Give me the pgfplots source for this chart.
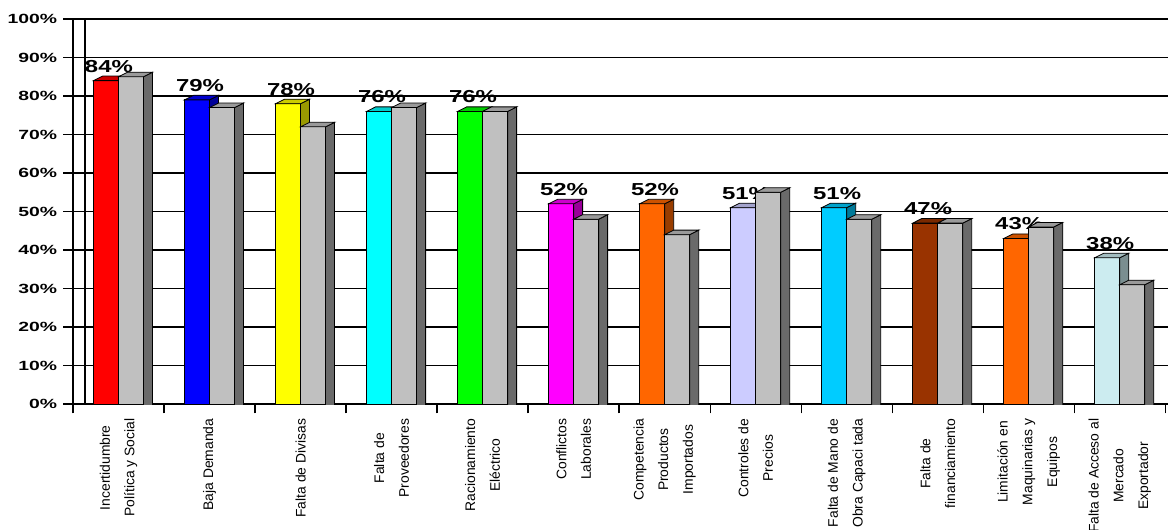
\documentclass[border=0pt]{standalone}
\usepackage{pgfplots}
\pgfplotsset{compat=1.18}
\usepackage{pgfplotstable}
\usepackage{graphicx}
\usepackage{fontspec}
\setmainfont{Liberation Sans}

\definecolor{c0}{HTML}{FF0000}
\definecolor{c1}{HTML}{0000FF}
\definecolor{c2}{HTML}{FFFF00}
\definecolor{c3}{HTML}{00FFFF}
\definecolor{c4}{HTML}{00FF00}
\definecolor{c5}{HTML}{FF00FF}
\definecolor{c6}{HTML}{FF6600}
\definecolor{c7}{HTML}{CCCCFF}
\definecolor{c8}{HTML}{00CCFF}
\definecolor{c9}{HTML}{993300}
\definecolor{c10}{HTML}{FF6600}
\definecolor{c11}{HTML}{CCECF0}
\definecolor{gb}{HTML}{C0C0C0}

% 3D faces of the bars (bar width 18.75pt, depth 6.75pt x 3.4pt)
\pgfdeclareplotmark{topL}{%
  \pgfpathmoveto{\pgfqpoint{-18.75pt}{0pt}}%
  \pgfpathlineto{\pgfqpoint{0pt}{0pt}}%
  \pgfpathlineto{\pgfqpoint{6.75pt}{3.4pt}}%
  \pgfpathlineto{\pgfqpoint{-12pt}{3.4pt}}%
  \pgfpathclose
  \pgfusepathqfillstroke}
\pgfdeclareplotmark{sideL}{%
  \pgfpathmoveto{\pgfqpoint{0pt}{0pt}}%
  \pgfpathlineto{\pgfqpoint{6.75pt}{3.4pt}}%
  \pgfpathlineto{\pgfqpoint{6.75pt}{-400pt}}%
  \pgfpathlineto{\pgfqpoint{0pt}{-400pt}}%
  \pgfpathclose
  \pgfusepathqfillstroke}
\pgfdeclareplotmark{topR}{%
  \pgfpathmoveto{\pgfqpoint{0pt}{0pt}}%
  \pgfpathlineto{\pgfqpoint{18.75pt}{0pt}}%
  \pgfpathlineto{\pgfqpoint{25.5pt}{3.4pt}}%
  \pgfpathlineto{\pgfqpoint{6.75pt}{3.4pt}}%
  \pgfpathclose
  \pgfusepathqfillstroke}
\pgfdeclareplotmark{sideR}{%
  \pgfpathmoveto{\pgfqpoint{18.75pt}{0pt}}%
  \pgfpathlineto{\pgfqpoint{25.5pt}{3.4pt}}%
  \pgfpathlineto{\pgfqpoint{25.5pt}{-400pt}}%
  \pgfpathlineto{\pgfqpoint{18.75pt}{-400pt}}%
  \pgfpathclose
  \pgfusepathqfillstroke}

\pgfplotstableread{
x a b
0 84 85
1 79 77
2 78 72
3 76 77
4 76 76
5 52 48
6 52 44
7 51 55
8 51 48
9 47 47
10 43 46
11 38 31
}\datatable

\begin{document}
\begin{tikzpicture}
\begin{axis}[
  name=ax,
  x=68.25pt, y=2.8875pt,
  xmin=-0.5, xmax=11.53, ymin=0, ymax=100,
  axis x line*=bottom, axis y line*=left,
  axis line style={black, line width=1pt},
  clip marker paths=true,
  ytick={0,10,...,100},
  yticklabel={\scalebox{1.45}[1]{\bfseries\pgfmathprintnumber[assume math mode=true]{\tick}\%}},
  yticklabel style={font=\fontsize{10}{10}\selectfont, xshift=-1pt},
  ymajorgrids,
  major grid style={black, line width=1pt},
  tick align=outside,
  major tick length=7.5pt,
  minor tick length=7pt,
  tick style={black, line width=1pt},
  xtick={0,...,11},
  major x tick style={draw=none},
  minor xtick={-0.5,0.5,...,11.5},
  extra x ticks={-0.37},
  extra x tick labels={},
  extra x tick style={grid=major, major tick length=0pt},
  xticklabels={
    {Incertidumbre\\Política y Social},
    {Baja Demanda},
    {Falta de Divisas},
    {Falta de\\Proveedores},
    {Racionamiento\\Eléctrico},
    {Conflictos\\Laborales},
    {Competencia\\Productos\\Importados},
    {Controles de\\Precios},
    {Falta de Mano de\\Obra Capaci tada},
    {Falta de\\financiamiento},
    {Limitación en\\Maquinarias y\\Equipos},
    {Falta de Acceso al\\Mercado\\Exportador}},
  xticklabel style={rotate=90, anchor=east, align=center,
    font=\fontsize{10.4}{18.5}\selectfont},
]
\pgfplotsinvokeforeach{0,...,11}{
  \addplot[ybar, bar width=18.75pt, bar shift=-9.375pt, fill=c#1, draw=black,
    line width=0.6pt, x filter/.expression={x==#1 ? x : nan},
    nodes near coords={\scalebox{1.38}[1]{\pgfmathprintnumber[assume math mode=true]{\pgfplotspointmeta}\%}},
    nodes near coords style={font=\bfseries\fontsize{13}{13}\selectfont, anchor=south,
      yshift=5pt, xshift=-7.2pt, inner sep=1pt}]
    table[x=x, y=a]{\datatable};
  \addplot[only marks, mark=sideL, line width=0.6pt,
    mark options={fill=c#1!60!black, draw=black},
    x filter/.expression={x==#1 ? x : nan}]
    table[x=x, y=a]{\datatable};
  \addplot[only marks, mark=topL, line width=0.6pt,
    mark options={fill=c#1!80!black, draw=black},
    x filter/.expression={x==#1 ? x : nan}]
    table[x=x, y=a]{\datatable};
}
\addplot[ybar, bar width=18.75pt, bar shift=9.375pt, fill=gb, draw=black, line width=0.6pt]
  table[x=x, y=b]{\datatable};
\addplot[only marks, mark=sideR, line width=0.6pt, mark options={fill=gb!55!black, draw=black}]
  table[x=x, y=b]{\datatable};
\addplot[only marks, mark=topR, line width=0.6pt, mark options={fill=gb!80!black, draw=black}]
  table[x=x, y=b]{\datatable};
\end{axis}
\pgfresetboundingbox
\useasboundingbox ([xshift=-54.75pt,yshift=-93.75pt]ax.south west) rectangle ([yshift=14.25pt]ax.north east);
\end{tikzpicture}
\end{document}
